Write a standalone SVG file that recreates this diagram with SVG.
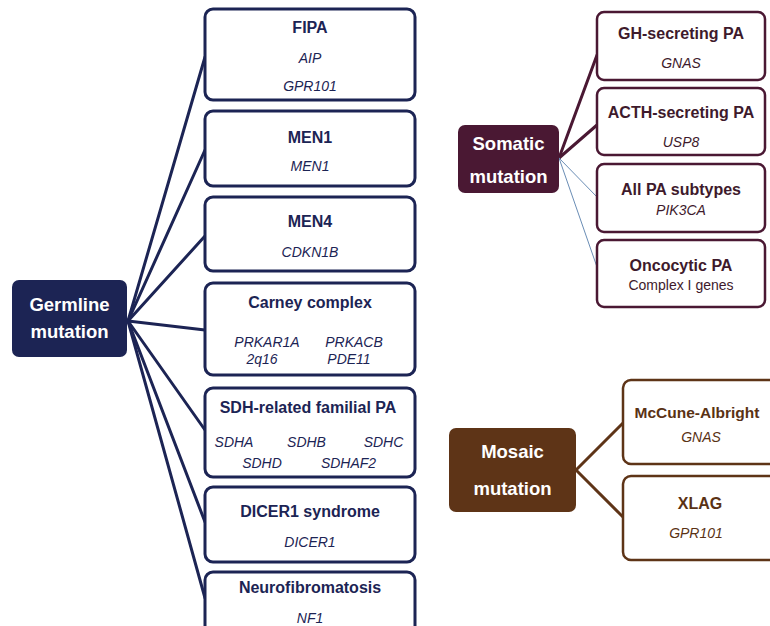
<svg xmlns="http://www.w3.org/2000/svg" width="770" height="626" viewBox="0 0 770 626">
<style>
text{font-family:"Liberation Sans",Arial,sans-serif;text-anchor:middle}
.main{font-size:18.5px;font-weight:bold;fill:#fff}
.t{font-size:16px;font-weight:bold}
.g{font-size:14px;font-style:italic}
.r{font-size:14px}
.gb{fill:#fff;stroke:#1c2454;stroke-width:3}
.sb{fill:#fff;stroke:#4a1833;stroke-width:2.5}
.mb{fill:#fff;stroke:#5e3417;stroke-width:2.5}
.gt{fill:#1c2454}
.st{fill:#3e1a2c}
.mt{fill:#5a3214}
</style>
<g id="connectors" fill="none" stroke-linecap="round">
<g stroke="#1c2454" stroke-width="3">
<line x1="128" y1="321" x2="205" y2="57"/>
<line x1="128" y1="321" x2="205" y2="150"/>
<line x1="128" y1="321" x2="205" y2="236"/>
<line x1="128" y1="321" x2="205" y2="330"/>
<line x1="128" y1="321" x2="205" y2="430"/>
<line x1="128" y1="321" x2="205" y2="522"/>
<line x1="128" y1="321" x2="205" y2="598"/>
</g>
<g stroke="#4a1833" stroke-width="3">
<line x1="559" y1="158" x2="597" y2="55"/>
<line x1="559" y1="158" x2="597" y2="125"/>
</g>
<g stroke="#6a8db5" stroke-width="1">
<line x1="559" y1="158" x2="597" y2="197"/>
<line x1="559" y1="158" x2="597" y2="267"/>
</g>
<g stroke="#5e3417" stroke-width="3">
<line x1="576" y1="470" x2="623" y2="423"/>
<line x1="576" y1="470" x2="623" y2="517"/>
</g>
</g>
<g id="germline">
<rect x="12" y="280" width="115" height="77" rx="7" fill="#1c2454"/>
<text class="main" x="69.5" y="311">Germline</text>
<text class="main" x="69.5" y="338">mutation</text>
</g>
<g id="fipa">
<rect class="gb" x="205" y="9" width="210" height="91" rx="8"/>
<text class="t gt" x="310" y="33">FIPA</text>
<text class="g gt" x="310" y="63">AIP</text>
<text class="g gt" x="310" y="91">GPR101</text>
</g>
<g id="men1">
<rect class="gb" x="205" y="111" width="210" height="75" rx="8"/>
<text class="t gt" x="310" y="143">MEN1</text>
<text class="g gt" x="310" y="171">MEN1</text>
</g>
<g id="men4">
<rect class="gb" x="205" y="197" width="210" height="74" rx="8"/>
<text class="t gt" x="310" y="227">MEN4</text>
<text class="g gt" x="310" y="257">CDKN1B</text>
</g>
<g id="carney">
<rect class="gb" x="205" y="283" width="210" height="92" rx="8"/>
<text class="t gt" x="310" y="308">Carney complex</text>
<text class="g gt" x="267" y="347">PRKAR1A</text>
<text class="g gt" x="354" y="347">PRKACB</text>
<text class="g gt" x="262" y="364">2q16</text>
<text class="g gt" x="349" y="364">PDE11</text>
</g>
<g id="sdh">
<rect class="gb" x="205" y="388" width="210" height="89" rx="8"/>
<text class="t gt" x="308" y="413">SDH-related familial PA</text>
<text class="g gt" x="234" y="447">SDHA</text>
<text class="g gt" x="306.5" y="447">SDHB</text>
<text class="g gt" x="383.5" y="447">SDHC</text>
<text class="g gt" x="262" y="468">SDHD</text>
<text class="g gt" x="348.5" y="468">SDHAF2</text>
</g>
<g id="dicer1">
<rect class="gb" x="205" y="487" width="210" height="75" rx="8"/>
<text class="t gt" x="310" y="517">DICER1 syndrome</text>
<text class="g gt" x="310" y="547">DICER1</text>
</g>
<g id="neurofibromatosis">
<rect class="gb" x="205" y="572" width="210" height="80" rx="8"/>
<text class="t gt" x="310" y="593">Neurofibromatosis</text>
<text class="g gt" x="310" y="623">NF1</text>
</g>
<g id="somatic">
<rect x="458" y="125" width="101" height="68" rx="7" fill="#4a1833"/>
<text class="main" x="508.5" y="150">Somatic</text>
<text class="main" x="508.5" y="183">mutation</text>
</g>
<g id="gh">
<rect class="sb" x="597" y="12" width="168" height="68" rx="7"/>
<text class="t st" x="681" y="39">GH-secreting PA</text>
<text class="g st" x="681" y="68">GNAS</text>
</g>
<g id="acth">
<rect class="sb" x="597" y="88" width="168" height="67" rx="7"/>
<text class="t st" x="681" y="118">ACTH-secreting PA</text>
<text class="g st" x="681" y="147">USP8</text>
</g>
<g id="allpa">
<rect class="sb" x="597" y="164" width="168" height="68" rx="7"/>
<text class="t st" x="681" y="195">All PA subtypes</text>
<text class="g st" x="681" y="215">PIK3CA</text>
</g>
<g id="oncocytic">
<rect class="sb" x="597" y="240" width="168" height="67" rx="7"/>
<text class="t st" x="681" y="271">Oncocytic PA</text>
<text class="r st" x="681" y="290">Complex  I genes</text>
</g>
<g id="mosaic">
<rect x="449" y="428" width="127" height="84" rx="7" fill="#5e3417"/>
<text class="main" x="512.5" y="458">Mosaic</text>
<text class="main" x="512.5" y="495">mutation</text>
</g>
<g id="mccune">
<rect class="mb" x="623" y="380" width="155" height="84" rx="8"/>
<text class="t mt" x="697" y="418" style="font-size:15.5px">McCune-Albright</text>
<text class="g mt" x="701" y="442">GNAS</text>
</g>
<g id="xlag">
<rect class="mb" x="623" y="476" width="155" height="84" rx="8"/>
<text class="t mt" x="700" y="509">XLAG</text>
<text class="g mt" x="696" y="538">GPR101</text>
</g>
</svg>
